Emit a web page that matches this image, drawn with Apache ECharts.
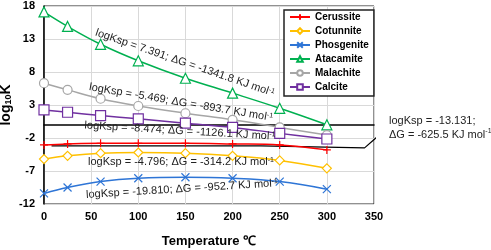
<!DOCTYPE html>
<html>
<head>
<meta charset="utf-8">
<script src="https://cdn.jsdelivr.net/npm/echarts@6/dist/echarts.min.js"></script>
<style>
html,body{margin:0;padding:0;background:#fff;}
#chart{width:491px;height:250px;}
</style>
</head>
<body>
<div id="chart"></div>
<script>
var temps=[0,25,60,100,150,200,250,300];
var names=['Cerussite','Cotunnite','Phosgenite','Atacamite','Malachite','Calcite'];
var cerussite=[-3.05,-2.9,-2.8,-2.8,-2.8,-2.9,-3.05,-3.8];
var cotunnite=[-5.2,-4.7,-4.3,-4.2,-4.3,-4.7,-5.4,-6.6];
var phosgenite=[-10.4,-9.5,-8.6,-8.1,-7.95,-8.1,-8.6,-9.75];
var atacamite=[17.1,14.9,12.2,9.7,7.05,4.8,2.5,0.0];
var malachite=[6.3,5.3,3.95,2.85,1.75,0.75,-0.4,-1.55];
var calcite=[2.25,1.9,1.4,0.9,0.25,-0.4,-1.3,-2.15];
var xTicks=[0,50,100,150,200,250,300,350];
var yTicks=[-12,-7,-2,3,8,13,18];
// leader line for the cerussite note
var leaderLine=[[8,-3.2],[230,-3.2],[340,-3.5],[358,-1.25]];

var colors=['#ff0000','#ffc000','#2e75d6','#00b050','#a6a6a6','#7030a0'];
var symbols=['path://M5,0L5,10M0,5L10,5','diamond','path://M0,0L10,10M10,0L0,10','triangle','circle','rect'];
var sizes=[8,9,8,10,9,10];
var values=[cerussite,cotunnite,phosgenite,atacamite,malachite,calcite];

var font='Arial, "Liberation Sans", sans-serif';
var chart=echarts.init(document.getElementById('chart'));

function pairs(v){
	var d=[];
	for(var i=0;i<temps.length;i++){
		d.push([temps[i],v[i]]);
	}
	return d;
}

var series=[];
series.push({
	name:'leader',
	type:'line',
	data:leaderLine,
	symbol:'none',
	silent:true,
	clip:false,
	z:1,
	lineStyle:{color:'#000',width:1.2}
});
for(var int=0;int<names.length;int++){
	series.push({
		name:names[int],
		type:'line',
		smooth:0.4,
		data:pairs(values[int]),
		symbol:symbols[int],
		symbolSize:sizes[int],
		showAllSymbol:true,
		z:3,
		lineStyle:{color:colors[int],width:1.5},
		itemStyle:{color:int==0||int==2?colors[int]:'#fff',borderColor:colors[int],borderWidth:1.2}
	});
}

var supStyle={fontSize:7,verticalAlign:'top',fontFamily:font,fill:'#222'};
function note(text,x,y,rot){
	return {
		type:'text',
		x:x,
		y:y,
		rotation:rot,
		z:10,
		style:{
			text:text,
			font:'11px '+font,
			fill:'#222',
			align:'center',
			verticalAlign:'middle',
			rich:{sup:supStyle}
		}
	};
}

var option={
	animation:false,
	color:colors,
	grid:{left:44,right:117,top:6,bottom:46,show:true,borderColor:'#222',borderWidth:1,backgroundColor:'transparent',outerBoundsMode:'none',containLabel:false},
	legend:{
		data:names,
		orient:'vertical',
		left:284,
		top:10,
		padding:[1,5,3,5],
		itemWidth:20,
		itemHeight:7,
		itemGap:2,
		backgroundColor:'#fff',
		borderColor:'#222',
		borderWidth:1.5,
		borderRadius:0,
		textStyle:{fontFamily:font,fontSize:10,fontWeight:'bold',color:'#000',lineHeight:12}
	},
	xAxis:{
		type:'value',
		min:xTicks[0],
		max:xTicks[xTicks.length-1],
		interval:50,
		name:'Temperature ℃',
		nameLocation:'middle',
		nameGap:31,
		nameMoveOverlap:false,
		nameTextStyle:{fontFamily:font,fontSize:13,fontWeight:'bold',color:'#000',verticalAlign:'top'},
		axisLine:{lineStyle:{color:'#000',width:1.5}},
		axisTick:{show:false},
		axisLabel:{fontFamily:font,fontSize:11,fontWeight:'bold',color:'#000',margin:7},
		splitLine:{lineStyle:{color:'#d9d9d9',width:1}}
	},
	yAxis:{
		type:'value',
		min:yTicks[0],
		max:yTicks[yTicks.length-1],
		interval:5,
		name:'{a|log}{b|10}{a|K}',
		nameLocation:'middle',
		nameGap:31,
		nameMoveOverlap:false,
		nameRotate:90,
		nameTextStyle:{
			color:'#000',
			rich:{
				a:{fontFamily:font,fontSize:14,fontWeight:'bold',color:'#000'},
				b:{fontFamily:font,fontSize:9,fontWeight:'bold',color:'#000',verticalAlign:'bottom'}
			}
		},
		axisLine:{show:true,lineStyle:{color:'#000',width:1.5}},
		axisTick:{show:false},
		axisLabel:{fontFamily:font,fontSize:11,fontWeight:'bold',color:'#000',margin:9},
		splitLine:{lineStyle:{color:'#d9d9d9',width:1}}
	},
	graphic:[
		note('logKsp = 7.391; ΔG = -1341.8 KJ mol{sup|-1}',185,63,-0.33),
		note('logKsp = -5.469; ΔG = -893.7 KJ mol{sup|-1}',181,102.5,-0.167),
		note('logKsp = -8.474; ΔG = -1126.1 KJ mol{sup|-1}',180,131,-0.059),
		note('logKsp = -4.796; ΔG = -314.2 KJ mol{sup|-1}',181,162,0),
		note('logKsp = -19.810; ΔG = -952.7 KJ mol{sup|-1}',182,189,0.061),
		{
			type:'text',
			x:389,
			y:128,
			z:10,
			style:{
				text:'logKsp = -13.131;\nΔG = -625.5 KJ mol{sup|-1}',
				font:'11px '+font,
				fill:'#222',
				align:'left',
				verticalAlign:'middle',
				lineHeight:14,
				rich:{sup:supStyle}
			}
		}
	],
	series:series
};
chart.setOption(option,true);
</script>
</body>
</html>
